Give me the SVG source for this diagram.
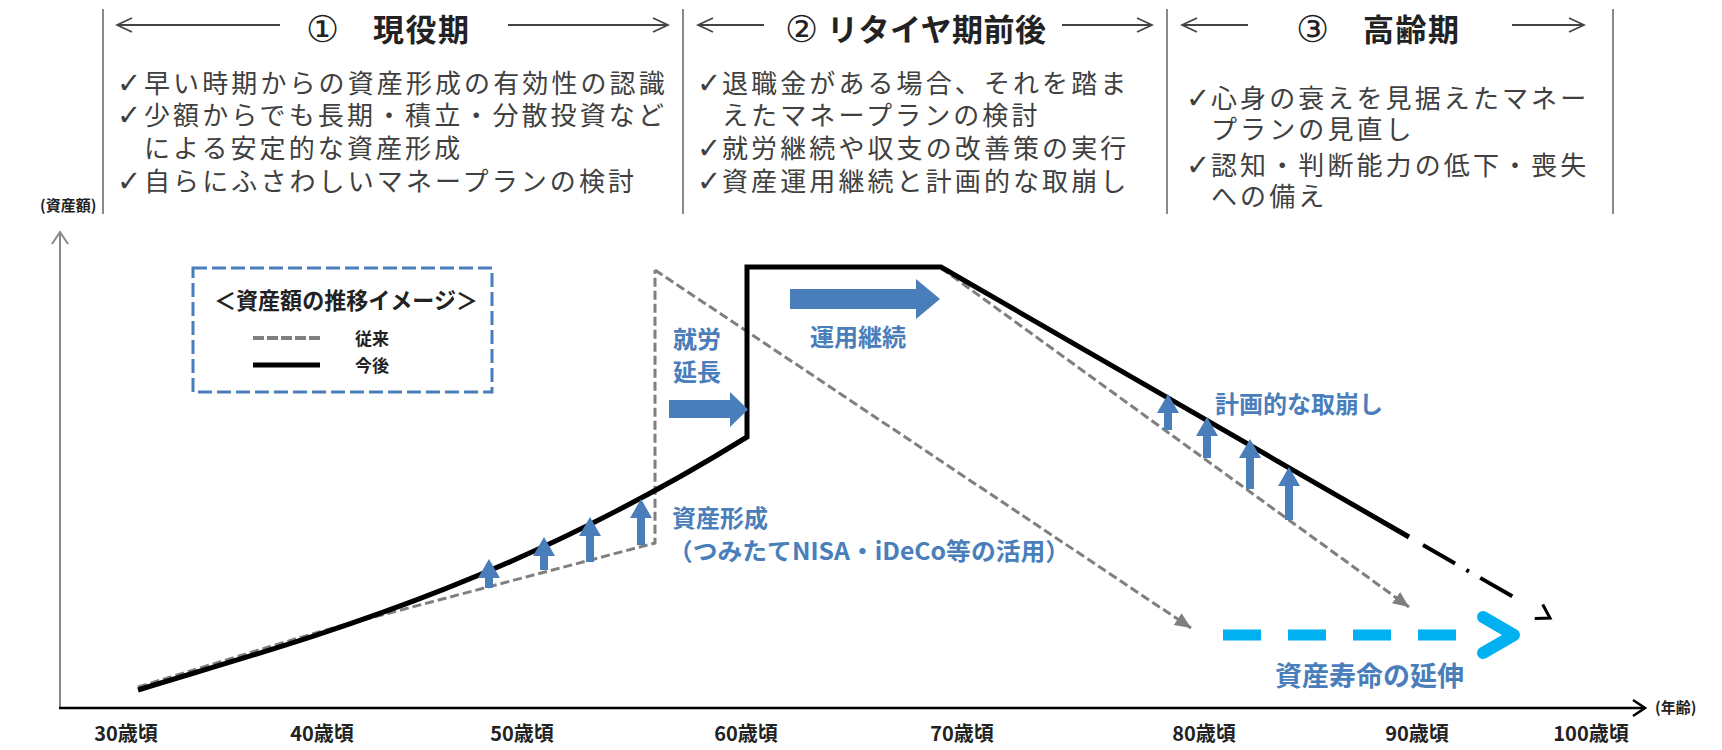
<svg xmlns="http://www.w3.org/2000/svg" width="1722" height="750" viewBox="0 0 1722 750">
<defs>
<style>
text{font-family:"Noto Sans CJK JP","Noto Sans",sans-serif;}
.sep{stroke:#8a8a8a;stroke-width:2;fill:none;}
.harrow{stroke:#444;stroke-width:1.8;fill:none;marker-end:url(#hhead);}
.title{font-size:31px;font-weight:bold;fill:#222;letter-spacing:1.5px;}
.circ{font-size:37px;fill:#222;font-family:"DejaVu Sans","Noto Sans CJK JP",sans-serif;}
.bul{font-size:26px;fill:#404040;letter-spacing:3.1px;}
.chk{font-size:29px;fill:#404040;font-family:"DejaVu Sans",sans-serif;}
.blue{fill:#4a7ebb;font-weight:bold;}
.axlbl{font-size:20px;font-weight:bold;fill:#222;}
.small{font-size:15px;font-weight:bold;fill:#222;}
.gdash{stroke:#7f7f7f;stroke-width:3;stroke-dasharray:9 4;fill:none;}
.bline{stroke:#000;stroke-width:5;fill:none;stroke-linejoin:miter;}
.barrow{fill:#4a7ebb;}
</style>
<marker id="hhead" markerUnits="userSpaceOnUse" markerWidth="18" markerHeight="16" refX="16" refY="8" orient="auto">
<path d="M1,1 L16,8 L1,15" fill="none" stroke="#444" stroke-width="1.8"/>
</marker>
<marker id="ghead" markerUnits="userSpaceOnUse" markerWidth="18" markerHeight="16" refX="16" refY="8" orient="auto">
<path d="M0,1 L16,8 L0,15 z" fill="#7f7f7f"/>
</marker>
<marker id="bhead" markerUnits="userSpaceOnUse" markerWidth="20" markerHeight="20" refX="16" refY="10" orient="auto">
<path d="M3,2 L16,10 L3,18" fill="none" stroke="#000" stroke-width="3"/>
</marker>
<marker id="axhead" markerUnits="userSpaceOnUse" markerWidth="16" markerHeight="18" refX="14" refY="9" orient="auto">
<path d="M2,1 L14,9 L2,17" fill="none" stroke="#000" stroke-width="2.5"/>
</marker>
<marker id="ayhead" markerUnits="userSpaceOnUse" markerWidth="16" markerHeight="18" refX="14" refY="9" orient="auto">
<path d="M2,1 L14,9 L2,17" fill="none" stroke="#888" stroke-width="2"/>
</marker>
</defs>
<rect width="1722" height="750" fill="#fff"/>

<g id="header">
<line class="sep" x1="103" y1="9" x2="103" y2="214"/>
<line class="sep" x1="683" y1="9" x2="683" y2="214"/>
<line class="sep" x1="1167" y1="9" x2="1167" y2="214"/>
<line class="sep" x1="1613" y1="9" x2="1613" y2="214"/>
</g>

<g id="phase1">
<line class="harrow" x1="280" y1="25" x2="117" y2="25"/>
<line class="harrow" x1="508" y1="25" x2="668" y2="25"/>
<text class="circ" x="306" y="42">①</text>
<text class="title" x="373" y="41">現役期</text>
<text class="chk" x="117" y="93">✓</text><text class="bul" x="144" y="93">早い時期からの資産形成の有効性の認識</text>
<text class="chk" x="117" y="125">✓</text><text class="bul" x="144" y="125">少額からでも長期・積立・分散投資など</text>
<text class="bul" x="144" y="158">による安定的な資産形成</text>
<text class="chk" x="117" y="191">✓</text><text class="bul" x="144" y="191">自らにふさわしいマネープランの検討</text>
</g>

<g id="phase2">
<line class="harrow" x1="764" y1="25" x2="698" y2="25"/>
<line class="harrow" x1="1062" y1="25" x2="1152" y2="25"/>
<text class="circ" x="785" y="42">②</text>
<text class="title" x="827" y="41" style="letter-spacing:0.5px">リタイヤ期前後</text>
<text class="chk" x="697" y="93">✓</text><text class="bul" x="722" y="93">退職金がある場合、それを踏ま</text>
<text class="bul" x="722" y="125">えたマネープランの検討</text>
<text class="chk" x="697" y="158">✓</text><text class="bul" x="722" y="158">就労継続や収支の改善策の実行</text>
<text class="chk" x="697" y="191">✓</text><text class="bul" x="722" y="191">資産運用継続と計画的な取崩し</text>
</g>

<g id="phase3">
<line class="harrow" x1="1248" y1="25" x2="1182" y2="25"/>
<line class="harrow" x1="1512" y1="25" x2="1584" y2="25"/>
<text class="circ" x="1296" y="42">③</text>
<text class="title" x="1363" y="41">高齢期</text>
<text class="chk" x="1186" y="108">✓</text><text class="bul" x="1211" y="108">心身の衰えを見据えたマネー</text>
<text class="bul" x="1211" y="139">プランの見直し</text>
<text class="chk" x="1186" y="175">✓</text><text class="bul" x="1211" y="175">認知・判断能力の低下・喪失</text>
<text class="bul" x="1211" y="206">への備え</text>
</g>

<g id="axes">
<line x1="60" y1="708" x2="60" y2="232" stroke="#888" stroke-width="2" marker-end="url(#ayhead)"/>
<line x1="59" y1="708" x2="1645" y2="708" stroke="#000" stroke-width="2.5" marker-end="url(#axhead)"/>
<text class="small" x="40" y="211">(資産額)</text>
<text class="small" x="1655" y="713">(年齢)</text>
<text class="axlbl" x="126" y="741" text-anchor="middle">30歳頃</text>
<text class="axlbl" x="322" y="741" text-anchor="middle">40歳頃</text>
<text class="axlbl" x="522" y="741" text-anchor="middle">50歳頃</text>
<text class="axlbl" x="746" y="741" text-anchor="middle">60歳頃</text>
<text class="axlbl" x="962" y="741" text-anchor="middle">70歳頃</text>
<text class="axlbl" x="1204" y="741" text-anchor="middle">80歳頃</text>
<text class="axlbl" x="1417" y="741" text-anchor="middle">90歳頃</text>
<text class="axlbl" x="1591" y="741" text-anchor="middle">100歳頃</text>
</g>

<g id="legend">
<rect x="193" y="268" width="299" height="124" fill="none" stroke="#4a7ebb" stroke-width="3" stroke-dasharray="14 5"/>
<text x="346" y="309" text-anchor="middle" font-size="23" font-weight="bold" fill="#222" textLength="264" lengthAdjust="spacingAndGlyphs">＜資産額の推移イメージ＞</text>
<line x1="253" y1="338" x2="320" y2="338" stroke="#7f7f7f" stroke-width="4" stroke-dasharray="11 3"/>
<line x1="253" y1="365" x2="320" y2="365" stroke="#000" stroke-width="5"/>
<text x="355" y="345" font-size="17" font-weight="bold" fill="#222">従来</text>
<text x="355" y="372" font-size="17" font-weight="bold" fill="#222">今後</text>
</g>

<g id="connectors">
<path class="gdash" d="M138,687 C220,662 290,640 340,626 L655,543 L655,270"/>
<path class="gdash" d="M655,270 L1191,628" marker-end="url(#ghead)"/>
<path class="gdash" d="M941,268 L1409,607" marker-end="url(#ghead)"/>
<path class="bline" d="M138,690 C300,640 500,590 747,437 L747,267 L941,267 L1409,537"/>
<path d="M1423,545 L1550,618" stroke="#000" stroke-width="4" fill="none" stroke-dasharray="37 13 3 13 37 200" marker-end="url(#bhead)"/>
<path d="M1223,635 L1462,635" stroke="#00b0f0" stroke-width="11" stroke-dasharray="38 27" fill="none"/>
<path d="M1483,617 L1514,635 L1483,653" stroke="#00b0f0" stroke-width="12" fill="none" stroke-linecap="round" stroke-linejoin="round"/>
</g>

<g id="blue-arrows">
<polygon class="barrow" points="669,400 730,400 730,392 748,409.5 730,427 730,418 669,418"/>
<polygon class="barrow" points="790,289 916,289 916,279 940,299 916,319 916,309 790,309"/>
<g id="up-growth">
<polygon class="barrow" points="485,588 485,578 478,578 489,559 500,578 493,578 493,588"/>
<polygon class="barrow" points="540,570 540,556 533,556 544,537 555,556 548,556 548,570"/>
<polygon class="barrow" points="586,562 586,536 579,536 590,517 601,536 594,536 594,562"/>
<polygon class="barrow" points="637,545 637,518 630,518 641,499 652,518 645,518 645,545"/>
</g>
<g id="up-drawdown">
<polygon class="barrow" points="1164,430 1164,413 1157,413 1168,394 1179,413 1172,413 1172,430"/>
<polygon class="barrow" points="1203,458 1203,436 1196,436 1207,417 1218,436 1211,436 1211,458"/>
<polygon class="barrow" points="1246,489 1246,458 1239,458 1250,439 1261,458 1254,458 1254,489"/>
<polygon class="barrow" points="1285,520 1285,486 1278,486 1289,467 1300,486 1293,486 1293,520"/>
</g>
</g>

<g id="labels">
<text class="blue" x="673" y="348" font-size="24">就労</text>
<text class="blue" x="673" y="381" font-size="24">延長</text>
<text class="blue" x="810" y="346" font-size="24">運用継続</text>
<text class="blue" x="1215" y="413" font-size="24">計画的な取崩し</text>
<text class="blue" x="672" y="527" font-size="24">資産形成</text>
<text class="blue" x="668" y="560" font-size="24" textLength="402" lengthAdjust="spacingAndGlyphs">（つみたてNISA・iDeCo等の活用）</text>
<text class="blue" x="1275" y="686" font-size="27">資産寿命の延伸</text>
</g>
</svg>
